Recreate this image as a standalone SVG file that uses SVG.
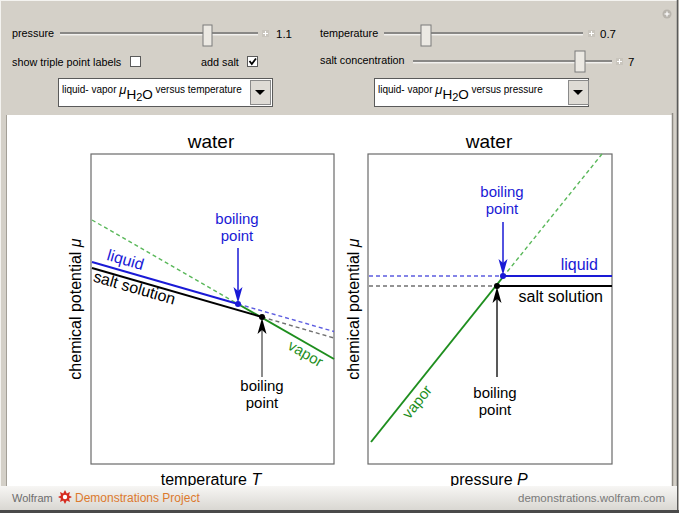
<svg xmlns="http://www.w3.org/2000/svg" width="679" height="513" viewBox="0 0 679 513">
<defs>
<style>
text{font-family:"Liberation Sans",Arial,sans-serif}
.ctl{font-size:10.8px;fill:#000}
.dd{font-size:10px;fill:#000}
.ttl{font-size:19px;fill:#000}
.ax{font-size:16px;fill:#000}
.lbl{font-size:16px}
.bp{font-size:15px}
.frame{fill:none;stroke:#6a6a6a;stroke-width:1.2}
.sol{fill:none;stroke-width:2}
.dash{fill:none;stroke-width:1.4;stroke-dasharray:4 3}
.blue{stroke:#1a1ad6}
.green{stroke:#1e8e1e}
.black{stroke:#000}
.gdash{stroke:#5ab85a}
.bdash{stroke:#5c5ce0}
.kdash{stroke:#707070}
.track{fill:none;stroke:#707070;stroke-width:1.4}
.track2{fill:none;stroke:#ffffff;stroke-width:1}
.thumb{fill:#ece9e3;stroke:#7a7a7a;stroke-width:1}
.plus{fill:#c9c5bd}
.pl{stroke:#fff;stroke-width:1}
.cb{fill:#fff;stroke:#5a5a5a;stroke-width:1}
</style>
<linearGradient id="foot" x1="0" y1="0" x2="0" y2="1">
<stop offset="0" stop-color="#f7f6f4"/>
<stop offset="1" stop-color="#d9d7d2"/>
</linearGradient>
</defs>

<!-- background -->
<rect x="0" y="0" width="679" height="513" fill="#d4d0c8"/>
<rect x="0.5" y="0.5" width="677" height="510" fill="none" stroke="#f4f3f0" stroke-width="1"/>
<line x1="677.5" y1="0" x2="677.5" y2="513" stroke="#5a5a5a" stroke-width="1.5"/>
<line x1="0" y1="511.5" x2="679" y2="511.5" stroke="#4a4a4a" stroke-width="3"/>

<!-- controls -->
<g id="controls">
  <g id="pressure-slider">
    <text class="ctl" x="12" y="37">pressure</text>
    <line class="track" x1="60" y1="33" x2="258" y2="33"/>
    <line class="track2" x1="60" y1="34.8" x2="258" y2="34.8"/>
    <rect class="thumb" x="203" y="25" width="9" height="21"/>
    <rect class="plus" x="262" y="30" width="7" height="7"/>
    <line class="pl" x1="263" y1="33.5" x2="268" y2="33.5"/><line class="pl" x1="265.5" y1="31" x2="265.5" y2="36"/>
    <text class="ctl" x="276" y="38" style="font-size:11.5px">1.1</text>
  </g>
  <g id="temperature-slider">
    <text class="ctl" x="320" y="37">temperature</text>
    <line class="track" x1="384" y1="33" x2="583" y2="33"/>
    <line class="track2" x1="384" y1="34.8" x2="583" y2="34.8"/>
    <rect class="thumb" x="421" y="25" width="10" height="21"/>
    <rect class="plus" x="588" y="30" width="7" height="7"/>
    <line class="pl" x1="589" y1="33.5" x2="594" y2="33.5"/><line class="pl" x1="591.5" y1="31" x2="591.5" y2="36"/>
    <text class="ctl" x="600" y="38" style="font-size:11.5px">0.7</text>
  </g>
  <g id="salt-slider">
    <text class="ctl" x="320" y="64">salt concentration</text>
    <line class="track" x1="413" y1="61" x2="612" y2="61"/>
    <line class="track2" x1="413" y1="62.8" x2="612" y2="62.8"/>
    <rect class="thumb" x="575" y="51" width="10" height="21"/>
    <rect class="plus" x="616" y="58" width="7" height="7"/>
    <line class="pl" x1="617" y1="61.5" x2="622" y2="61.5"/><line class="pl" x1="619.5" y1="59" x2="619.5" y2="64"/>
    <text class="ctl" x="628" y="66" style="font-size:11.5px">7</text>
  </g>
  <g id="triple-checkbox">
    <text class="ctl" x="12" y="66">show triple point labels</text>
    <rect class="cb" x="130.5" y="56.5" width="10" height="10"/>
  </g>
  <g id="salt-checkbox">
    <text class="ctl" x="201" y="66">add salt</text>
    <rect class="cb" x="247.5" y="56.5" width="10" height="10"/>
    <path d="M249.5 61 L251.8 64 L256 58.5" fill="none" stroke="#000" stroke-width="1.8"/>
  </g>
  <g id="dropdown-1">
    <rect x="58.5" y="78.5" width="214" height="28" fill="#fff" stroke="#5a5a5a" stroke-width="1"/>
    <rect x="250.5" y="80.5" width="20" height="24" fill="#dedbd5" stroke="#8a8a8a" stroke-width="1"/>
    <polygon points="255,90 265,90 260,95" fill="#000"/>
    <text class="dd" x="62" y="93">liquid- vapor <tspan font-style="italic" font-size="13px" dy="1">μ</tspan><tspan font-size="13.5px" dy="5">H</tspan><tspan font-size="11px" dy="2">2</tspan><tspan font-size="13.5px" dy="-2">O</tspan><tspan dy="-6"> versus temperature</tspan></text>
  </g>
  <g id="dropdown-2">
    <rect x="374.5" y="78.5" width="214" height="28" fill="#fff" stroke="#5a5a5a" stroke-width="1"/>
    <rect x="568.5" y="80.5" width="20" height="24" fill="#dedbd5" stroke="#8a8a8a" stroke-width="1"/>
    <polygon points="573,90 583,90 578,95" fill="#000"/>
    <text class="dd" x="378" y="93">liquid- vapor <tspan font-style="italic" font-size="13px" dy="1">μ</tspan><tspan font-size="13.5px" dy="5">H</tspan><tspan font-size="11px" dy="2">2</tspan><tspan font-size="13.5px" dy="-2">O</tspan><tspan dy="-6"> versus pressure</tspan></text>
  </g>
  <g id="corner-plus">
    <circle cx="667" cy="14" r="4.5" fill="#b8b4ad"/>
    <line x1="664.5" y1="14" x2="669.5" y2="14" stroke="#fff" stroke-width="1.2"/>
    <line x1="667" y1="11.5" x2="667" y2="16.5" stroke="#fff" stroke-width="1.2"/>
  </g>
</g>

<!-- content area -->
<rect x="7" y="115" width="665" height="371" fill="#fff"/>
<line x1="6.5" y1="115" x2="6.5" y2="486" stroke="#a39f97" stroke-width="1"/>
<line x1="672.5" y1="113" x2="672.5" y2="486" stroke="#8f8b84" stroke-width="1.5"/>

<!-- left plot -->
<g id="plot-temperature">
  <text class="ttl" x="211" y="148" text-anchor="middle">water</text>
  <rect class="frame" x="91" y="154" width="243" height="310"/>
  <text class="ax" x="211" y="485" text-anchor="middle">temperature <tspan font-style="italic">T</tspan></text>
  <text class="ax" transform="translate(81,309) rotate(-90)" text-anchor="middle">chemical potential <tspan font-style="italic">μ</tspan></text>
</g>
<g id="plot-pressure">
  <text class="ttl" x="489" y="148" text-anchor="middle">water</text>
  <rect class="frame" x="368" y="154" width="244" height="310"/>
  <text class="ax" x="489" y="485" text-anchor="middle">pressure <tspan font-style="italic">P</tspan></text>
  <text class="ax" transform="translate(359,309) rotate(-90)" text-anchor="middle">chemical potential <tspan font-style="italic">μ</tspan></text>
</g>

<g id="connectors">
  <!-- left plot curves -->
  <line class="dash gdash" x1="92" y1="220" x2="238" y2="304"/>
  <line class="sol green" x1="238" y1="304" x2="334" y2="359"/>
  <line class="sol blue" x1="92" y1="262" x2="238" y2="304"/>
  <line class="dash bdash" x1="238" y1="304" x2="334" y2="331.5"/>
  <line class="sol black" x1="92" y1="268" x2="262" y2="317"/>
  <line class="dash kdash" x1="262" y1="317" x2="334" y2="338"/>
  <!-- left arrows -->
  <line x1="238" y1="248" x2="238" y2="292" stroke="#1a1ad6" stroke-width="1.5"/>
  <polygon points="238,303 233.5,287 238,291 242.5,287" fill="#1a1ad6"/>
  <line x1="262" y1="377" x2="262" y2="330" stroke="#666" stroke-width="1.5"/>
  <polygon points="262,318 257.5,334 262,330 266.5,334" fill="#000"/>
  <!-- right plot curves -->
  <line class="sol green" x1="371" y1="442" x2="503" y2="277"/>
  <line class="dash gdash" x1="503" y1="277" x2="602" y2="154"/>
  <line class="dash bdash" x1="369" y1="276" x2="503" y2="276"/>
  <line class="sol blue" x1="503" y1="276" x2="612" y2="276"/>
  <line class="dash kdash" x1="369" y1="286" x2="497" y2="286"/>
  <line class="sol black" x1="497" y1="286" x2="612" y2="286"/>
  <!-- right arrows -->
  <line x1="503" y1="222" x2="503" y2="265" stroke="#1a1ad6" stroke-width="1.5"/>
  <polygon points="503,275 498.5,259 503,263 507.5,259" fill="#1a1ad6"/>
  <line x1="497" y1="377" x2="497" y2="299" stroke="#222" stroke-width="1.5"/>
  <polygon points="497,287 492.5,303 497,299 501.5,303" fill="#000"/>
</g>

<g id="points">
  <circle cx="238" cy="304" r="3" fill="#1a1ad6"/>
  <circle cx="262" cy="317" r="3" fill="#000"/>
  <circle cx="503" cy="276" r="3" fill="#1a1ad6"/>
  <circle cx="497" cy="286" r="3" fill="#000"/>
</g>

<g id="labels-left">
  <text class="lbl" fill="#1a1ad6" transform="translate(124,265) rotate(16)" text-anchor="middle">liquid</text>
  <text class="lbl" fill="#000" transform="translate(133,293) rotate(16)" text-anchor="middle">salt solution</text>
  <text class="lbl" fill="#1e8e1e" transform="translate(303,358) rotate(30)" text-anchor="middle" style="font-size:15px">vapor</text>
  <text class="bp" fill="#1a1ad6" x="237" y="224" text-anchor="middle">boiling</text>
  <text class="bp" fill="#1a1ad6" x="237" y="241" text-anchor="middle">point</text>
  <text class="bp" fill="#000" x="262" y="391" text-anchor="middle">boiling</text>
  <text class="bp" fill="#000" x="262" y="408" text-anchor="middle">point</text>
</g>
<g id="labels-right">
  <text class="lbl" fill="#1a1ad6" x="598" y="270" text-anchor="end">liquid</text>
  <text class="lbl" fill="#000" x="603" y="302" text-anchor="end">salt solution</text>
  <text class="lbl" fill="#1e8e1e" transform="translate(421,405) rotate(-51.3)" text-anchor="middle" style="font-size:15px">vapor</text>
  <text class="bp" fill="#1a1ad6" x="502" y="197" text-anchor="middle">boiling</text>
  <text class="bp" fill="#1a1ad6" x="502" y="214" text-anchor="middle">point</text>
  <text class="bp" fill="#000" x="495" y="398" text-anchor="middle">boiling</text>
  <text class="bp" fill="#000" x="495" y="415" text-anchor="middle">point</text>
</g>

<!-- footer -->
<g id="footer">
  <rect x="0" y="486" width="677" height="24" fill="url(#foot)"/>
  <text x="12" y="502" font-size="11px" fill="#6d6d6d">Wolfram</text>
  <g transform="translate(65,497)">
    <polygon points="0,-7 1.8,-3.5 5,-5 4,-1.5 7,0 4,1.5 5,5 1.8,3.5 0,7 -1.8,3.5 -5,5 -4,1.5 -7,0 -4,-1.5 -5,-5 -1.8,-3.5" fill="#d62a1e"/>
    <circle r="2.2" fill="#fff"/>
  </g>
  <text x="75" y="502" font-size="12px" fill="#dc7a2e">Demonstrations Project</text>
  <text x="665" y="502" font-size="11.5px" fill="#7a7a7a" text-anchor="end">demonstrations.wolfram.com</text>
</g>
</svg>
